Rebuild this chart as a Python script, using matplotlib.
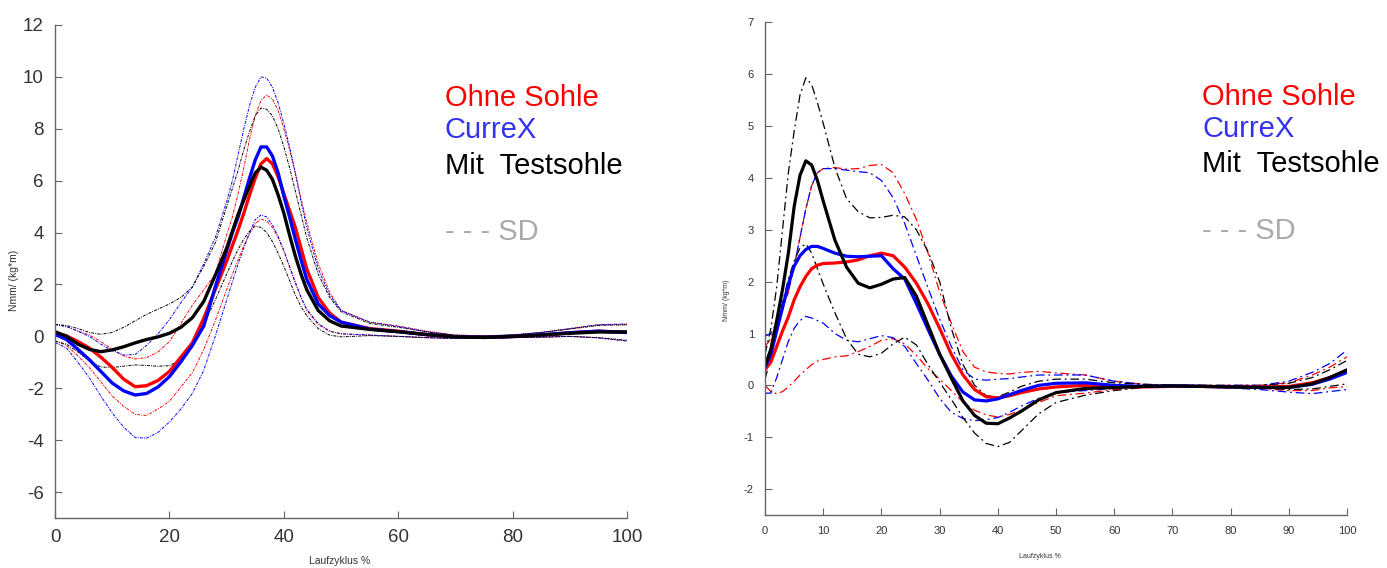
import numpy as np
import matplotlib
matplotlib.use("Agg")
import matplotlib.pyplot as plt

plt.rcParams['font.family'] = ['Liberation Sans', 'DejaVu Sans']
plt.rcParams['axes.unicode_minus'] = False

# ---- linke Grafik ----
xl = [0, 2, 4, 6, 8, 10, 12, 14, 16, 18, 20, 22,
      24, 26, 28, 30, 31, 32, 33, 34, 35, 36, 37, 38, 39, 40,
      41, 42, 43, 44, 46, 48, 50, 55, 60, 65, 70, 75, 80, 85, 90, 95, 100]

l_ohne = [0.14, 0.02, -0.2, -0.45, -0.8, -1.2, -1.65, -1.94, -1.9, -1.7, -1.35, -0.8,
          -0.25, 0.7, 1.8, 2.9, 3.5, 4.1, 4.75, 5.45, 6.1, 6.65, 6.85, 6.65, 6.15, 5.5,
          4.85, 4.2, 3.4, 2.6, 1.5, 0.9, 0.55,
          0.3, 0.2, 0.06, -0.02, -0.04, 0.0, 0.05, 0.14, 0.2, 0.15]
l_currex = [0.08, -0.12, -0.5, -0.9, -1.35, -1.8, -2.1, -2.26, -2.2, -1.95, -1.55, -0.98,
            -0.35, 0.4, 1.9, 3.3, 4.0, 4.6, 5.35, 6.1, 6.8, 7.3, 7.3, 6.95, 6.3, 5.4,
            4.6, 3.75, 2.95, 2.2, 1.25, 0.8, 0.55,
            0.28, 0.18, 0.07, -0.02, -0.04, 0.0, 0.06, 0.14, 0.2, 0.15]
l_test = [0.18, 0.0, -0.3, -0.5, -0.59, -0.52, -0.4, -0.25, -0.12, -0.02, 0.12, 0.35,
          0.72, 1.35, 2.35, 3.4, 4.05, 4.7, 5.25, 5.8, 6.3, 6.52, 6.4, 6.05, 5.45, 4.75,
          3.9, 3.1, 2.4, 1.8, 1.0, 0.6, 0.4,
          0.27, 0.18, 0.07, -0.02, -0.04, 0.0, 0.05, 0.12, 0.17, 0.17]

l_ohne_hi = [0.46, 0.38, 0.2, 0.05, -0.2, -0.5, -0.75, -0.87, -0.82, -0.6, -0.2, 0.5,
             1.2, 1.8, 2.4, 3.9, 4.6, 5.5, 6.5, 7.6, 8.5, 9.1, 9.3, 9.15, 8.7, 8.0,
             7.2, 6.3, 5.3, 4.4, 2.8, 1.7, 1.0,
             0.55, 0.4, 0.2, 0.05, 0.02, 0.05, 0.15, 0.3, 0.45, 0.45]
l_currex_hi = [0.46, 0.38, 0.2, 0.0, -0.3, -0.55, -0.72, -0.7, -0.35, 0.1, 0.65, 1.3,
               1.9, 2.8, 3.8, 5.2, 6.0, 7.0, 8.0, 8.9, 9.6, 10.0, 9.95, 9.6, 9.0, 8.2,
               7.3, 6.3, 5.2, 4.2, 2.6, 1.6, 1.0,
               0.55, 0.38, 0.18, 0.03, 0.02, 0.06, 0.15, 0.3, 0.45, 0.48]
l_test_hi = [0.46, 0.42, 0.3, 0.15, 0.08, 0.15, 0.35, 0.6, 0.85, 1.05, 1.25, 1.5,
             1.9, 2.7, 3.6, 5.0, 5.7, 6.4, 7.2, 7.9, 8.5, 8.8, 8.75, 8.5, 8.0, 7.3,
             6.5, 5.6, 4.7, 3.8, 2.4, 1.5, 0.95,
             0.5, 0.35, 0.17, 0.05, 0.02, 0.05, 0.15, 0.28, 0.42, 0.45]

l_ohne_lo = [-0.18, -0.35, -0.75, -1.2, -1.75, -2.3, -2.7, -3.0, -3.05, -2.8, -2.5, -1.95,
             -1.4, -0.5, 0.6, 1.8, 2.4, 2.95, 3.5, 3.95, 4.35, 4.52, 4.45, 4.2, 3.8, 3.3,
             2.65, 2.05, 1.5, 1.0, 0.45, 0.2, 0.1,
             0.05, 0.0, -0.05, -0.08, -0.08, -0.05, -0.03, 0.0, -0.05, -0.18]
l_currex_lo = [-0.24, -0.45, -1.0, -1.6, -2.3, -2.95, -3.5, -3.9, -3.92, -3.7, -3.3, -2.8,
               -2.2, -1.3, 0.0, 1.4, 2.1, 2.8, 3.4, 4.0, 4.5, 4.68, 4.6, 4.3, 3.85, 3.3,
               2.7, 2.1, 1.5, 1.05, 0.5, 0.2, 0.1,
               0.05, 0.0, -0.05, -0.08, -0.08, -0.05, -0.03, 0.0, -0.06, -0.18]
l_test_lo = [-0.18, -0.3, -0.6, -0.95, -1.18, -1.2, -1.15, -1.1, -1.12, -1.15, -1.13, -0.9,
             -0.4, 0.45, 1.4, 2.4, 2.9, 3.35, 3.75, 4.05, 4.25, 4.2, 4.0, 3.65, 3.2, 2.7,
             2.15, 1.6, 1.15, 0.8, 0.3, 0.05, -0.02,
             0.03, 0.0, -0.05, -0.08, -0.08, -0.05, -0.03, 0.0, -0.05, -0.15]

# ---- rechte Grafik ----
xr = [0, 1, 2, 3, 4, 5, 6, 7, 8, 9, 10, 12, 14, 16, 18, 20, 22, 24, 26, 28, 30, 32, 34, 36, 38,
      40, 42, 44, 47, 50, 55, 60, 65, 70, 75, 80, 85, 90, 94, 97, 100]

r_ohne = [0.3, 0.45, 0.75, 1.05, 1.32, 1.65, 1.9, 2.1, 2.25, 2.32, 2.35, 2.36, 2.38, 2.42, 2.5,
          2.55, 2.5, 2.28, 1.97, 1.57, 1.1, 0.6, 0.2, -0.08, -0.22, -0.24, -0.2, -0.14, -0.07,
          -0.03, 0.0, -0.02, -0.03, -0.02, -0.02, -0.03, -0.03, -0.02, 0.05, 0.15, 0.28]
r_currex = [0.35, 0.6, 1.05, 1.5, 1.95, 2.3, 2.5, 2.62, 2.68, 2.68, 2.64, 2.55, 2.49, 2.48, 2.49,
            2.5, 2.25, 2.05, 1.58, 1.08, 0.6, 0.18, -0.13, -0.28, -0.3, -0.26, -0.18, -0.1, 0.0,
            0.04, 0.05, 0.0, -0.02, -0.01, -0.02, -0.03, -0.04, -0.04, 0.02, 0.12, 0.25]
r_test = [0.38, 0.7, 1.25, 1.85, 2.55, 3.45, 4.05, 4.33, 4.25, 3.95, 3.55, 2.8, 2.28, 1.97, 1.88,
          1.95, 2.05, 2.08, 1.72, 1.16, 0.6, 0.14, -0.3, -0.58, -0.73, -0.74, -0.63, -0.5, -0.28,
          -0.14, -0.06, -0.04, -0.02, -0.01, -0.02, -0.03, -0.04, -0.04, 0.03, 0.15, 0.3]

r_ohne_hi = [0.75, 0.9, 1.15, 1.45, 1.8, 2.3, 2.85, 3.4, 3.85, 4.1, 4.18, 4.2, 4.17, 4.18, 4.24,
             4.26, 4.1, 3.7, 3.2, 2.55, 1.8, 1.2, 0.65, 0.35, 0.26, 0.23, 0.22, 0.25, 0.27,
             0.24, 0.2, 0.08, 0.02, 0.0, 0.0, 0.0, 0.0, 0.05, 0.2, 0.35, 0.55]
r_currex_hi = [0.95, 1.0, 1.2, 1.5, 1.8, 2.3, 2.85, 3.4, 3.85, 4.1, 4.18, 4.18, 4.15, 4.12, 4.1,
               3.95, 3.62, 3.12, 2.5, 1.88, 1.28, 0.75, 0.3, 0.12, 0.1, 0.12, 0.13, 0.16, 0.2,
               0.2, 0.2, 0.08, 0.02, 0.01, 0.0, 0.0, 0.0, 0.08, 0.25, 0.42, 0.68]
r_test_hi = [0.6, 1.1, 1.9, 3.0, 4.1, 4.9, 5.6, 5.93, 5.8, 5.45, 5.05, 4.2, 3.6, 3.35, 3.23,
             3.24, 3.28, 3.25, 3.0, 2.58, 2.0, 1.1, 0.4, 0.0, -0.2, -0.22, -0.13, -0.02, 0.08,
             0.12, 0.12, 0.05, 0.02, 0.0, 0.0, 0.0, 0.0, 0.04, 0.15, 0.3, 0.48]

r_ohne_lo = [0.0, -0.12, -0.16, -0.12, -0.03, 0.08, 0.2, 0.3, 0.4, 0.47, 0.5, 0.55, 0.57, 0.65, 0.75,
             0.87, 0.9, 0.8, 0.58, 0.32, 0.12, -0.1, -0.32, -0.48, -0.57, -0.61, -0.56, -0.48, -0.33,
             -0.2, -0.15, -0.08, -0.04, -0.03, -0.03, -0.04, -0.06, -0.1, -0.1, -0.05, -0.02]
r_currex_lo = [-0.15, -0.15, 0.15, 0.5, 0.85, 1.1, 1.25, 1.33, 1.3, 1.25, 1.2, 1.0, 0.87, 0.84, 0.9,
               0.96, 0.92, 0.75, 0.42, 0.1, -0.25, -0.52, -0.64, -0.68, -0.66, -0.62, -0.52, -0.4, -0.25,
               -0.14, -0.1, -0.06, -0.04, -0.03, -0.03, -0.05, -0.08, -0.13, -0.16, -0.12, -0.08]
r_test_lo = [0.12, 0.55, 1.1, 1.6, 2.05, 2.4, 2.65, 2.73, 2.55, 2.25, 1.95, 1.4, 0.9, 0.6, 0.55,
             0.62, 0.8, 0.93, 0.78, 0.4, 0.06, -0.27, -0.62, -0.92, -1.12, -1.18, -1.1, -0.88, -0.55,
             -0.33, -0.19, -0.1, -0.04, -0.02, -0.02, -0.03, -0.05, -0.08, -0.07, -0.02, 0.03]

legend = ["Ohne Sohle", "CurreX", "Mit  Testsohle"]
farben = ["#ff0000", "#0000ff", "#000000"]
textfarben = ["#ff0000", "#3333ee", "#000000"]


def panel(ax, x, mittel, oben, unten, sd_style, sd_lw, mean_lw):
    for o, u, c in zip(oben, unten, farben):
        ax.plot(x, o, color=c, lw=sd_lw, linestyle=sd_style)
        ax.plot(x, u, color=c, lw=sd_lw, linestyle=sd_style)
    for m, c in zip(mittel, farben):
        ax.plot(x, m, color=c, lw=mean_lw, solid_capstyle='round', solid_joinstyle='round')
    for s in ["top", "right"]:
        ax.spines[s].set_visible(False)
    for s in ["left", "bottom"]:
        ax.spines[s].set_color("#666666")
        ax.spines[s].set_linewidth(1.0)
    ax.tick_params(direction="in", colors="#666666", labelcolor="#333333")
    ax.set_xlim(0, 100)


fig = plt.figure(figsize=(13.87, 5.68), dpi=100)

ax1 = fig.add_axes([0.0397, 0.088, 0.4124, 0.868])
panel(ax1, xl, [l_ohne, l_currex, l_test], [l_ohne_hi, l_currex_hi, l_test_hi],
      [l_ohne_lo, l_currex_lo, l_test_lo], (0, (3, 1.2, 1, 1.2)), 0.7, 2.4)
ax1.set_ylim(-7, 12)
ax1.set_yticks(range(-6, 13, 2))
ax1.set_xticks(range(0, 101, 20))
ax1.tick_params(labelsize=13.5, length=5, pad=8)

ax2 = fig.add_axes([0.5516, 0.0933, 0.4196, 0.8673])
panel(ax2, xr, [r_ohne, r_currex, r_test], [r_ohne_hi, r_currex_hi, r_test_hi],
      [r_ohne_lo, r_currex_lo, r_test_lo], (0, (7, 3, 1.5, 3)), 0.9, 2.3)
ax2.set_ylim(-2.5, 7)
ax2.set_yticks(range(-2, 8))
ax2.set_xticks(range(0, 101, 10))
ax2.tick_params(labelsize=8, length=5, pad=8)

# Achsenbeschriftungen
fig.text(14 / 1387, 1 - 280 / 568, "Nmm/ (kg*m)", rotation=90, fontsize=7.5,
         color="#333333", ha="center", va="center")
fig.text(340 / 1387, 1 - 561 / 568, "Laufzyklus %", fontsize=7.5,
         color="#333333", ha="center", va="center")
fig.text(727 / 1387, 1 - 300 / 568, "Nmm/ (kg*m)", rotation=90, fontsize=5,
         color="#333333", ha="center", va="center")
fig.text(1040 / 1387, 1 - 556 / 568, "Laufzyklus %", fontsize=5,
         color="#333333", ha="center", va="center")

# Legenden als Text
for x0, ys in [(445, [98, 130, 166, 232]), (1202, [97, 129, 164, 231])]:
    for label, c, y in zip(legend, textfarben, ys[:3]):
        fig.text(x0 / 1387, 1 - y / 568, label, color=c, fontsize=21,
                 ha="left", va="center")
    fig.text(x0 / 1387, 1 - ys[3] / 568, "- - - SD", color="#aaaaaa", fontsize=21,
             ha="left", va="center")

plt.savefig("out.png", dpi=100)
